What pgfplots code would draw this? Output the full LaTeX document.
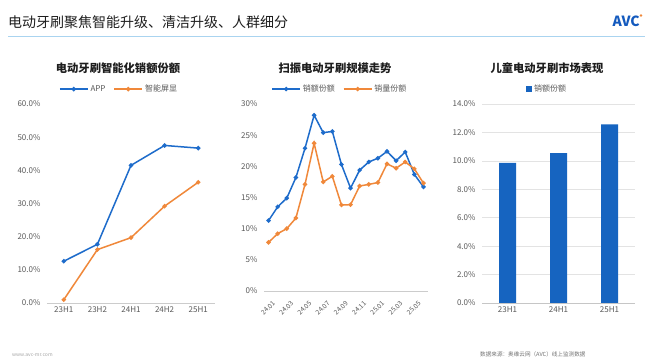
\documentclass[border=0pt]{standalone}
\usepackage{pgfplots}
\pgfplotsset{compat=1.18}
\usepackage{fontspec}
\setmainfont{Noto Sans CJK SC}
\definecolor{cblue}{RGB}{30,108,203}
\definecolor{corange}{RGB}{240,136,58}
\definecolor{cbar}{RGB}{22,100,192}
\definecolor{tickgray}{RGB}{89,89,89}
\definecolor{titlec}{RGB}{30,30,30}
\definecolor{hline}{RGB}{170,212,240}
\definecolor{logoblue}{RGB}{20,90,190}
\pgfplotsset{
  myaxis/.style={scale only axis, anchor=south west,
    axis line style={draw=none}, tick style={draw=none}, major tick length=0pt,
    tick label style={font=\fontsize{8}{9}\selectfont, text=tickgray},
    /pgf/number format/assume math mode=true,
    legend style={draw=none, fill=none, font=\fontsize{8}{9}\selectfont, text=tickgray,
      legend columns=-1,
      /tikz/every even column/.append style={column sep=6pt}},
    legend cell align=left,
    clip=false,
  },
}
\begin{document}
\begin{tikzpicture}
\path[use as bounding box, fill=white] (0pt,0pt) rectangle (652pt,363pt);
% header
\node[anchor=west, inner sep=0pt, text=titlec, font=\fontsize{14}{16}\selectfont] at (8pt,340.5pt) {电动牙刷聚焦智能升级、清洁升级、人群细分};
\draw[hline, line width=1.6pt] (8pt,326.3pt) -- (645pt,326.3pt);
\node[anchor=east, inner sep=0pt, text=logoblue, font=\fontsize{14}{16}\selectfont\bfseries] at (640pt,342pt) {AVC};
\fill[corange] (641pt,347.5pt) circle (1.3pt);
% footer
\node[anchor=west, inner sep=0pt, text=gray!70, font=\fontsize{5}{6}\selectfont] at (12pt,8pt) {www.avc-mr.com};
\node[anchor=west, inner sep=0pt, text=gray!90!black, font=\fontsize{5.6}{6}\selectfont] at (480pt,9pt) {数据来源：奥维云网（AVC）线上监测数据};

% ---------------- left chart
\begin{axis}[myaxis, at={(47pt,60pt)}, width=168pt, height=199pt,
  xmin=-0.5, xmax=4.5, ymin=0, ymax=60,
  ytick={0,10,...,60},
  yticklabel={\pgfmathprintnumber[fixed,fixed zerofill,precision=1]{\tick}\%},
  xtick={0,...,4}, xticklabels={23H1,23H2,24H1,24H2,25H1},
  yticklabel style={xshift=-3pt},
  legend style={at={(0.4286,1.075)}, anchor=center},
  legend image code/.code={\draw[#1, mark repeat=2, mark phase=2] plot coordinates {(0pt,0pt)(14pt,0pt)(28pt,0pt)};},
]
\draw[gray!40, line width=0.6pt] (rel axis cs:0,0) -- (rel axis cs:1,0);
\addplot[cblue, line width=1.5pt, mark=*, mark size=1.4pt] coordinates {(0,12.6)(1,17.7)(2,41.5)(3,47.5)(4,46.7)};
\addlegendentry{APP}
\addplot[corange, line width=1.5pt, mark=*, mark size=1.4pt] coordinates {(0,1.0)(1,16.1)(2,19.7)(3,29.2)(4,36.4)};
\addlegendentry{智能屏显}
\end{axis}
\node[text=titlec, font=\fontsize{11.3}{13}\selectfont\bfseries] at (118pt,295pt) {电动牙刷智能化销额份额};

% ---------------- middle chart
\begin{axis}[myaxis, at={(264pt,72pt)}, width=164pt, height=187pt,
  xmin=-0.5, xmax=17.5, ymin=0, ymax=30,
  ytick={0,5,...,30},
  yticklabel={\pgfmathprintnumber{\tick}\%},
  yticklabel style={xshift=-3pt},
  xtick={0,2,...,16}, xticklabels={24.01,24.03,24.05,24.07,24.09,24.11,25.01,25.03,25.05},
  xticklabel style={rotate=45, anchor=north east, font=\fontsize{6.6}{7}\selectfont, inner sep=1pt, xshift=-3pt, yshift=-8pt},
  legend style={at={(0.463,1.080)}, anchor=center},
  legend image code/.code={\draw[#1, mark repeat=2, mark phase=2] plot coordinates {(0pt,0pt)(14pt,0pt)(28pt,0pt)};},
]
\draw[gray!40, line width=0.6pt] (rel axis cs:0,0) -- (rel axis cs:1,0);
\addplot[cblue, line width=1.5pt, mark=*, mark size=1.4pt] coordinates {
(0,11.3)(1,13.5)(2,14.9)(3,18.2)(4,22.9)(5,28.2)(6,25.4)(7,25.6)(8,20.3)
(9,16.5)(10,19.4)(11,20.7)(12,21.3)(13,22.4)(14,20.9)(15,22.3)(16,18.7)(17,16.7)};
\addlegendentry{销额份额}
\addplot[corange, line width=1.5pt, mark=*, mark size=1.4pt] coordinates {
(0,7.8)(1,9.2)(2,10.0)(3,11.7)(4,17.1)(5,23.7)(6,17.5)(7,18.4)(8,13.8)
(9,13.85)(10,16.85)(11,17.1)(12,17.4)(13,20.4)(14,19.7)(15,20.7)(16,19.6)(17,17.3)};
\addlegendentry{销量份额}
\end{axis}
\node[text=titlec, font=\fontsize{11.3}{13}\selectfont\bfseries] at (335pt,295pt) {扫振电动牙刷规模走势};

% ---------------- right chart
\begin{axis}[myaxis, at={(482pt,60pt)}, width=153pt, height=199pt,
  xmin=-0.5, xmax=2.5, ymin=0, ymax=14,
  ytick={0,2,...,14},
  yticklabel={\pgfmathprintnumber[fixed,fixed zerofill,precision=1]{\tick}\%},
  yticklabel style={xshift=-3pt},
  xtick={0,1,2}, xticklabels={23H1,24H1,25H1},
  ymajorgrids, grid style={gray!22, line width=0.5pt},
  legend style={at={(0.425,1.075)}, anchor=center},
  legend image code/.code={\fill[#1] (0pt,-3pt) rectangle (6pt,3pt);},
]
\draw[gray!45, line width=0.6pt] (rel axis cs:0,0) -- (rel axis cs:1,0);
\addplot[ybar, bar width=17pt, fill=cbar, draw=none] coordinates {(0,9.85)(1,10.55)(2,12.57)};
\addlegendentry{销额份额}
\end{axis}
\node[text=titlec, font=\fontsize{11.3}{13}\selectfont\bfseries] at (547pt,295pt) {儿童电动牙刷市场表现};
\end{tikzpicture}
\end{document}
